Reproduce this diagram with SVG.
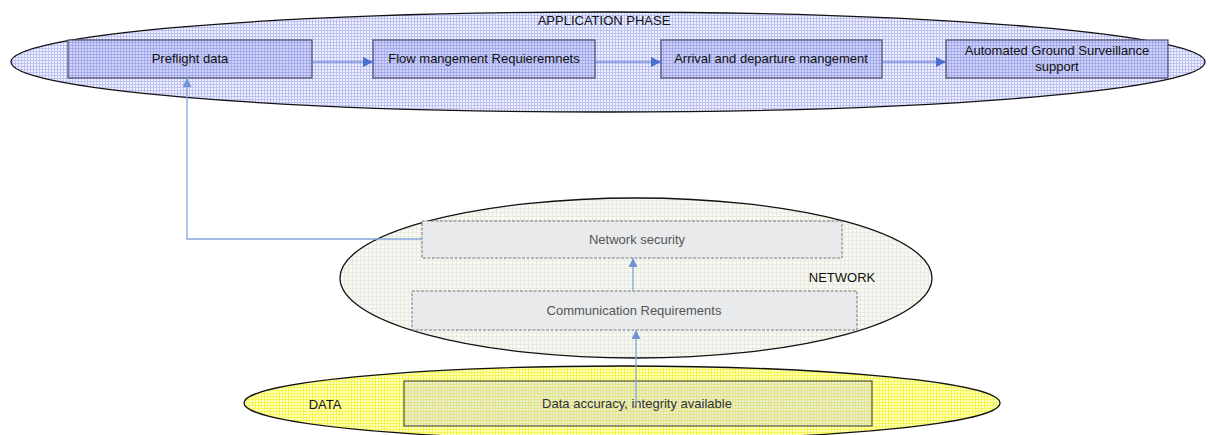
<svg xmlns="http://www.w3.org/2000/svg" width="1208" height="435" viewBox="0 0 1208 435">
  <defs>
    <!-- fine grid fills for the three layers -->
    <pattern id="gridBlue" width="3" height="3" patternUnits="userSpaceOnUse">
      <rect width="3" height="3" fill="#f0f1ff"/>
      <path d="M0 0.5H3M0.5 0V3" stroke="#bcc1f2" stroke-width="1"/>
    </pattern>
    <pattern id="gridBlueBox" width="3" height="3" patternUnits="userSpaceOnUse">
      <rect width="3" height="3" fill="#d0d4f8"/>
      <path d="M0 0.5H3M0.5 0V3" stroke="#a4aaea" stroke-width="1"/>
    </pattern>
    <pattern id="gridGrey" width="4" height="4" patternUnits="userSpaceOnUse">
      <rect width="4" height="4" fill="#f8f8f4"/>
      <path d="M0 0.5H4M0.5 0V4" stroke="#e8eae0" stroke-width="1"/>
    </pattern>
    <pattern id="gridYellow" width="3" height="3" patternUnits="userSpaceOnUse">
      <rect width="3" height="3" fill="#ffffc8"/>
      <path d="M0 0.5H3M0.5 0V3" stroke="#f6f650" stroke-width="1"/>
    </pattern>
    <pattern id="gridYellowBox" width="3" height="3" patternUnits="userSpaceOnUse">
      <rect width="3" height="3" fill="#eceed2"/>
      <path d="M0 0.5H3M0.5 0V3" stroke="#e2e488" stroke-width="1"/>
    </pattern>
    <marker id="arrowDark" viewBox="0 0 10 10" refX="10" refY="5" markerWidth="10" markerHeight="10" markerUnits="userSpaceOnUse" orient="auto">
      <path d="M0 0L10 5L0 10Z" fill="#4a6fd0"/>
    </marker>
    <marker id="arrowLight" viewBox="0 0 10 10" refX="10" refY="5" markerWidth="9" markerHeight="9" markerUnits="userSpaceOnUse" orient="auto">
      <path d="M0 0L10 5L0 10Z" fill="#6f93d4"/>
    </marker>
  </defs>
  <style>
    .layer { stroke: #111; stroke-width: 1.3; }
    .lbl { font-family: "Liberation Sans", Arial, sans-serif; font-size: 13px; text-anchor: middle; dominant-baseline: central; }
    .appBox { fill: url(#gridBlueBox); stroke: #4a4a6a; stroke-width: 1.2; }
    .netBox { fill: #e8eaec; stroke: #777; stroke-width: 1; stroke-dasharray: 3 1.5; }
    .dataBox { fill: url(#gridYellowBox); stroke: #555540; stroke-width: 1.2; }
    .dark { fill: #111; }
    .grey { fill: #555; }
    .conn { fill: none; stroke: #4a6fd0; stroke-width: 1.2; }
    .connLight { fill: none; stroke: #86a6dc; stroke-width: 1.3; }
  </style>

  <!-- application phase layer -->
  <g id="application-phase">
    <ellipse class="layer" cx="608" cy="62" rx="597" ry="50" fill="url(#gridBlue)"/>
    <text class="lbl dark" x="604" y="20">APPLICATION PHASE</text>
  </g>

  <!-- network layer -->
  <g id="network">
    <ellipse class="layer" cx="636" cy="278" rx="296" ry="80" fill="url(#gridGrey)"/>
    <text class="lbl dark" x="842" y="277">NETWORK</text>
  </g>

  <!-- data layer -->
  <g id="data">
    <ellipse class="layer" cx="622" cy="403" rx="378" ry="37" fill="url(#gridYellow)"/>
    <text class="lbl dark" x="325" y="404">DATA</text>
  </g>

  <g id="preflight-data">
    <rect class="appBox" x="68" y="40" width="244" height="38"/>
    <text class="lbl dark" x="190" y="58">Preflight data</text>
  </g>
  <g id="flow-management">
    <rect class="appBox" x="373" y="40" width="222" height="38"/>
    <text class="lbl dark" x="484" y="58">Flow mangement Requieremnets</text>
  </g>
  <g id="arrival-departure">
    <rect class="appBox" x="661" y="40" width="221" height="38"/>
    <text class="lbl dark" x="771" y="58">Arrival and departure mangement</text>
  </g>
  <g id="ground-surveillance">
    <rect class="appBox" x="946" y="40" width="222" height="38"/>
    <text class="lbl dark" x="1057" y="50">Automated Ground Surveillance</text>
    <text class="lbl dark" x="1057" y="66">support</text>
  </g>

  <g id="network-security">
    <rect class="netBox" x="422" y="221" width="420" height="37"/>
    <text class="lbl grey" x="637" y="239">Network security</text>
  </g>
  <g id="communication-requirements">
    <rect class="netBox" x="412" y="291" width="445" height="39"/>
    <text class="lbl grey" x="634" y="310">Communication Requirements</text>
  </g>

  <g id="data-accuracy">
    <rect class="dataBox" x="404" y="381" width="468" height="45"/>
    <text class="lbl" fill="#333" x="637" y="403">Data accuracy, integrity available</text>
  </g>

  <!-- connectors -->
  <g id="connectors">
    <path class="conn" d="M312 62H373" marker-end="url(#arrowDark)"/>
    <path class="conn" d="M595 62H661" marker-end="url(#arrowDark)"/>
    <path class="conn" d="M882 62H946" marker-end="url(#arrowDark)"/>
    <path class="connLight" d="M422 239H187V78" marker-end="url(#arrowLight)"/>
    <path class="connLight" d="M633 291V258" marker-end="url(#arrowLight)"/>
    <path class="connLight" d="M636 406V330" marker-end="url(#arrowLight)"/>
  </g>
</svg>
